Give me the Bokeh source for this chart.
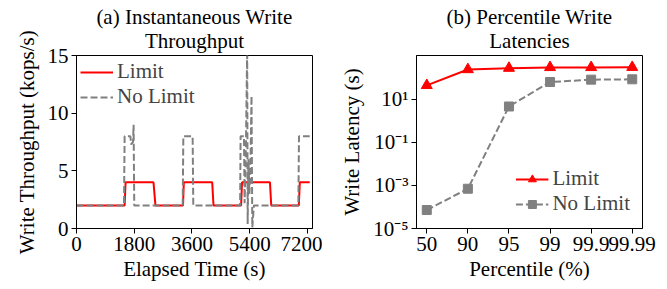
from bokeh.plotting import figure
from bokeh.layouts import row
from bokeh.models import Range1d, FixedTicker
from bokeh.embed import file_html
from bokeh.resources import INLINE

# ---- data: (a) instantaneous write throughput (kops/s) ----
limit_time = [0, 1500, 1530, 2400, 2460, 3320, 3345, 4230, 4270, 5130, 5160,
              6030, 6070, 6930, 6960, 7270]
limit_tput = [2, 2, 4, 4, 2, 2, 4, 4, 2, 2, 4, 4, 2, 2, 4, 4]

nolimit_time = [0, 1480, 1500, 1680, 1700, 1760, 1780, 1800, 3310, 3330, 3620,
                3640, 5100, 5115, 5220, 5240, 5280, 5320, 5335, 5360, 5390,
                5420, 5455, 5480, 5530, 6915, 6935, 7270]
nolimit_tput = [2, 2, 8, 8, 7.3, 7.5, 9, 2, 2, 8, 8,
                2, 2, 8, 8, 2.2, 7, 15.5, 0.4, 6, 3,
                5, 11.5, 0.1, 2, 2, 8, 8]

time_ticks = [0, 1800, 3600, 5400, 7200]
tput_ticks = [0, 5, 10, 15]

# ---- data: (b) percentile write latencies (s) ----
percentiles = ["50", "90", "95", "99", "99.9", "99.99"]
limit_lat = [44, 240, 277, 300, 300, 305]
nolimit_lat = [7.2e-5, 7.0e-4, 4.6, 63, 81, 84]
lat_ticks = [1e-5, 1e-3, 1e-1, 1e1]
lat_tick_labels = ["10\u207b\u2075", "10\u207b\u00b3", "10\u207b\u00b9", "10\u00b9"]

title_a = "(a) Instantaneous Write\nThroughput"
title_b = "(b) Percentile Write\nLatencies"

FONT = "Liberation Serif"
FS = "21px"
FH = 173


def style(p):
    p.outline_line_color = "black"
    p.outline_line_width = 1
    p.outline_line_alpha = 1
    p.xgrid.visible = False
    p.ygrid.visible = False
    p.background_fill_color = "white"
    p.border_fill_color = "white"
    for ax in p.axis:
        ax.axis_label_text_font = FONT
        ax.axis_label_text_font_size = FS
        ax.axis_label_text_font_style = "normal"
        ax.axis_label_text_color = "black"
        ax.major_label_text_font = FONT
        ax.major_label_text_font_size = FS
        ax.major_label_text_color = "black"
        ax.major_tick_out = 5
        ax.major_tick_in = 0
        ax.minor_tick_out = 0
        ax.minor_tick_in = 0
        ax.axis_line_color = "black"
        ax.major_tick_line_color = "black"
        ax.major_label_standoff = 3
    p.xaxis.axis_label_standoff = 3
    p.yaxis.axis_label_standoff = 6
    p.title.text_font = FONT
    p.title.text_font_size = FS
    p.title.text_font_style = "normal"
    p.title.text_color = "black"
    p.title.align = "center"
    p.title.text_line_height = 1.0
    p.title.standoff = 5
    try:
        p.title.text_align = "center"
    except Exception:
        pass


def style_legend(lg):
    lg.label_text_font = FONT
    lg.label_text_font_size = FS
    lg.border_line_alpha = 0
    lg.background_fill_alpha = 0
    lg.glyph_width = 33
    lg.glyph_height = 20
    lg.label_height = 20
    lg.label_standoff = 4
    lg.margin = 0


# ---- left panel ----
p1 = figure(frame_width=236, frame_height=FH,
            x_range=Range1d(0, 7356), y_range=Range1d(0, 15),
            output_backend="svg", toolbar_location=None,
            min_border_left=76, min_border_right=10,
            min_border_top=53, min_border_bottom=56,
            title=title_a)
p1.line(limit_time, limit_tput, color="red", line_width=2, legend_label="Limit")
p1.line(nolimit_time, nolimit_tput, color="#808080", line_width=2,
        line_dash="7 3", legend_label="No Limit")
p1.xaxis.ticker = FixedTicker(ticks=time_ticks)
p1.yaxis.ticker = FixedTicker(ticks=tput_ticks)
p1.xaxis.axis_label = "Elapsed Time (s)"
p1.yaxis.axis_label = "Write Throughput (kops/s)"
style(p1)
style_legend(p1.legend[0])
p1.legend.location = "top_left"
p1.legend.padding = 4
p1.legend.spacing = -1

# ---- right panel ----
xs = list(range(len(percentiles)))
p2 = figure(frame_width=226, frame_height=FH,
            x_range=Range1d(-0.25, 5.25), y_range=Range1d(1e-5, 1070),
            y_axis_type="log",
            output_backend="svg", toolbar_location=None,
            min_border_left=94, min_border_right=24,
            min_border_top=53, min_border_bottom=56,
            title=title_b)
p2.line(xs, limit_lat, color="red", line_width=2, legend_label="Limit")
p2.scatter(xs, limit_lat, marker="triangle", size=11, color="red",
           legend_label="Limit")
p2.line(xs, nolimit_lat, color="#808080", line_width=2, line_dash="7 3",
        legend_label="No Limit")
p2.scatter(xs, nolimit_lat, marker="square", size=9, color="#808080",
           legend_label="No Limit")
p2.xaxis.ticker = FixedTicker(ticks=xs)
p2.xaxis.major_label_overrides = {i: s for i, s in enumerate(percentiles)}
p2.yaxis.ticker = FixedTicker(ticks=lat_ticks, minor_ticks=[])
p2.yaxis.major_label_overrides = dict(zip(lat_ticks, lat_tick_labels))
p2.xaxis.axis_label = "Percentile (%)"
p2.yaxis.axis_label = "Write Latency (s)"
style(p2)
style_legend(p2.legend[0])
p2.legend.location = "bottom_right"
p2.legend.padding = 12
p2.legend.spacing = -2

layout = row(p1, p2)
open("out.html", "w").write(file_html(layout, INLINE))
